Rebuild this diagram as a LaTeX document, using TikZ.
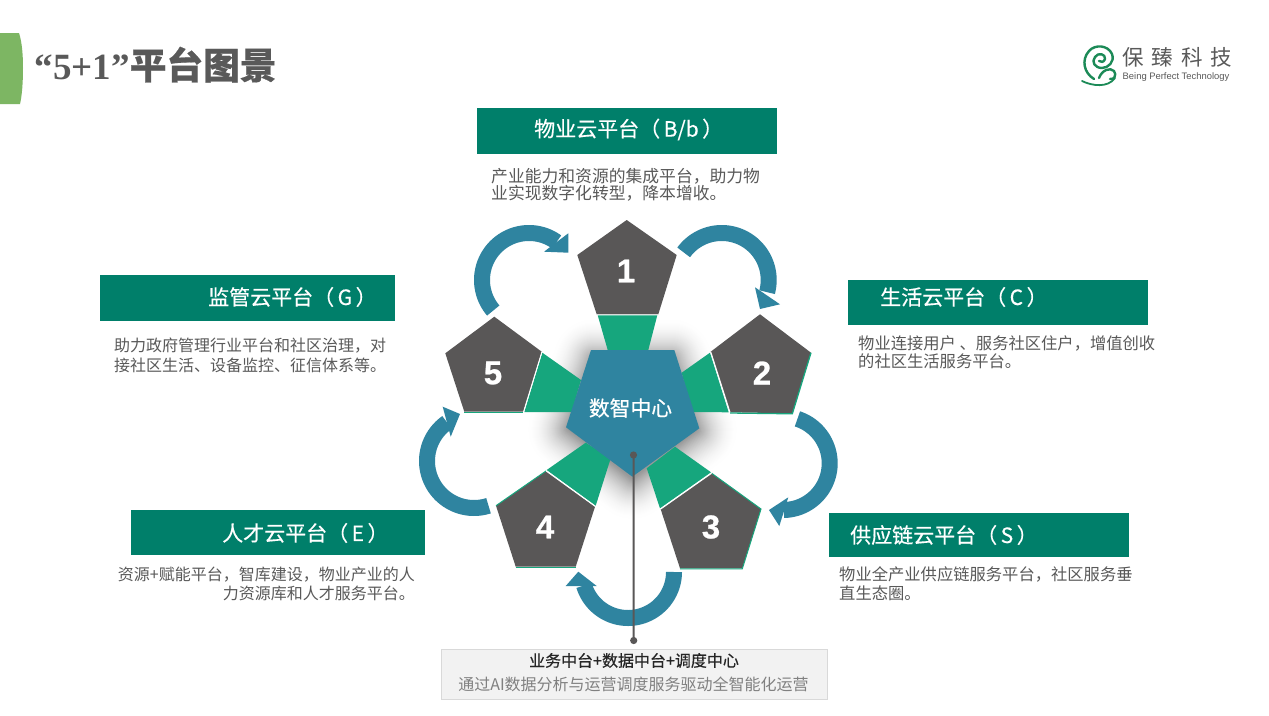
\documentclass[tikz,border=0pt]{standalone}
\usepackage{fontspec}
\setmainfont{Noto Sans CJK SC}
\newfontfamily\cjkmed[FakeBold=0.4]{Noto Sans CJK SC}
\newfontfamily\cjkhvy[FakeBold=0.55]{Noto Sans CJK SC}
\newfontfamily\latinser{Liberation Serif}
\newfontfamily\latinsan{Liberation Sans}
\newfontfamily\numfont[UprightFont={* Bold},FakeBold=0.8]{Liberation Sans}
\definecolor{barG}{HTML}{007F6A}
\definecolor{leaf}{HTML}{16A67D}
\definecolor{teal}{HTML}{2F84A0}
\definecolor{slate}{HTML}{595757}
\definecolor{bodyt}{HTML}{595959}
\definecolor{tabg}{HTML}{7DB663}
\definecolor{logog}{HTML}{1C8A57}
\tikzset{
  bar/.style={fill=barG,draw=none},
  barlabel/.style={text=white,font=\cjkmed\fontsize{21}{24}\selectfont,inner sep=0pt,anchor=west},
  body/.style={text=bodyt,font=\fontsize{16.3}{19.6}\selectfont,inner sep=0pt,align=left,anchor=north west},
  penta/.style={fill=slate,draw=none},
  wedge/.style={fill=leaf,draw=none},
  num/.style={text=white,font=\numfont\fontsize{33}{36}\selectfont,inner sep=0pt},
  arcline/.style={draw=teal,line width=16pt,line cap=butt,line join=round},
  headtip/.style={fill=teal,draw=none},
  sep/.style={draw=white,line width=1pt},
  rim/.style={draw=leaf,line width=1pt},
  logostroke/.style={draw=logog,line width=2.4pt,line cap=round,line join=round}
}
\newcommand{\curvedarrow}[7]{%
  \draw[arcline] plot[domain=#4:#5,samples=70] ({#1+#2*cos(\x)},{#3+#2*sin(\x)});
  \fill[headtip] #6 -- #7 -- cycle;}
\begin{document}
\begin{tikzpicture}[x=1pt,y=-1pt]
\useasboundingbox (0,0) rectangle (1269,715);
\fill[white] (0,0) rectangle (1269,715);
% tab
\fill[tabg] (0,33) -- (19,33) .. controls (22,42) and (23,55) .. (23,68) .. controls (23,82) and (22,96) .. (20,104) -- (0,104) -- cycle;
% title
\node[inner sep=0pt,anchor=base west,text=bodyt] (title) at (34.5,79) {\latinser\bfseries\fontsize{37}{40}\selectfont “5+1”\cjkhvy\fontsize{36.7}{40}\selectfont 平台图景};
% logo
\draw[logostroke] (1094,79) .. controls (1084,73) and (1081,60) .. (1089,51) .. controls (1095,44) and (1108,45) .. (1112,54) .. controls (1115,62) and (1108,68) .. (1102,68) .. controls (1095,68) and (1091,62) .. (1095,57) .. controls (1098,52) and (1106,54) .. (1105,59) .. controls (1104,62) and (1101,63) .. (1099,61);
\draw[logostroke] (1099,78) .. controls (1102,70) and (1110,67) .. (1114,71) .. controls (1117,75) and (1114,80) .. (1110,79);
\draw[logostroke,line width=1.8pt] (1082,81) .. controls (1092,86) and (1108,88) .. (1115,78);
\node[inner sep=0pt,anchor=center,text=bodyt] (logoa) at (1177,57) {\fontsize{21.5}{24}\selectfont 保\hspace{8pt}臻\hspace{8pt}科\hspace{8pt}技};
\node[inner sep=0pt,anchor=center,text=bodyt] (logob) at (1176,77.5) {\latinsan\fontsize{9.4}{11}\selectfont Being Perfect Technology};
% bars
\fill[bar] (477,108) rectangle (777,154);
\node[barlabel] (l1) at (534,129.5) {物业云平台（\,B/b\,）};
\fill[bar] (100,275) rectangle (395,321);
\node[barlabel] (lg) at (208,297) {监管云平台（\,G\,）};
\fill[bar] (848,280) rectangle (1148,325);
\node[barlabel] (lc) at (880,297) {生活云平台（\,C\,）};
\fill[bar] (131,510) rectangle (425,555);
\node[barlabel] (le) at (222,533) {人才云平台（\,E\,）};
\fill[bar] (829,513) rectangle (1129,557);
\node[barlabel] (ls) at (850,535) {供应链云平台（\,S\,）};
% body
\node[body,font=\fontsize{16.8}{16}\selectfont] (t1) at (491,168.5) {产业能力和资源的集成平台，助力物\\业实现数字化转型，降本增收。};
\node[body,font=\fontsize{16}{19.6}\selectfont] (tg) at (114,338) {助力政府管理行业平台和社区治理，对\\接社区生活、设备监控、征信体系等。};
\node[body,font=\fontsize{16.3}{18}\selectfont] (tc) at (858,336) {物业连接用户 、服务社区住户，增值创收\\的社区生活服务平台。};
\node[body,font=\fontsize{16.3}{19.2}\selectfont] (ts) at (839,566.5) {物业全产业供应链服务平台，社区服务垂\\直生态圈。};
\node[body,font=\fontsize{16}{19.2}\selectfont,align=right,anchor=north east] (te) at (415,566.5) {资源+赋能平台，智库建设，物业产业的人\\力资源库和人才服务平台。};
% soft shadow of the hub
\foreach \w in {42,41,...,1}{
  \pgfmathsetmacro{\shadepct}{42*(1-\w/43)*(1-\w/43)}
  \draw[draw=black!\shadepct,fill=black!\shadepct,line width=2*\w pt,line join=round] (594,360) -- (671,360) -- (696,430) -- (632.3,478) -- (569,429) -- cycle;
}
% wedges
\fill[wedge] (597.7,315.3) -- (657.3,315.3) -- (648.3,350) -- (607.7,350) -- cycle;
\fill[wedge] (542.3,352.7) -- (581,380) -- (571.7,412) -- (524.3,412) -- cycle;
\fill[wedge] (710,352.7) -- (681.7,372.7) -- (691.7,412) -- (728.7,412.3) -- cycle;
\fill[wedge] (711,472.3) -- (660,508.3) -- (646.7,468.3) -- (675,446.7) -- cycle;
\fill[wedge] (546.7,470) -- (595.7,505.7) -- (610.7,458.3) -- (585.7,442.7) -- cycle;
% pentagons
\fill[penta] (626.7,220) -- (676.7,255) -- (658.3,314.3) -- (596.7,314.3) -- (577.3,255) -- cycle;
\fill[penta] (760,314.3) -- (811,352.7) -- (792.3,413.3) -- (730,412.3) -- (710.7,351.7) -- cycle;
\fill[penta] (711.7,473.3) -- (761,509) -- (742.3,568.3) -- (680,568.3) -- (660.7,509.3) -- cycle;
\fill[penta] (546,471) -- (595,506.7) -- (575.7,566.7) -- (515.7,566.7) -- (496,505.7) -- cycle;
\fill[penta] (494.3,316.7) -- (541.7,351.7) -- (523.3,411.7) -- (464.3,411.7) -- (445.3,353.3) -- cycle;
% thin green rims
\draw[rim] (464.3,412) -- (523.3,412);
\draw[rim,line width=1.3pt] (730,413) -- (792.3,413.8) -- (811,352.7);
\draw[rim] (711.7,473.3) -- (761,509) -- (742.3,568.8) -- (680,568.8);
\draw[rim] (546,471) -- (496,505.7);
\draw[rim] (515.7,567) -- (575.7,567);
% white separators
\draw[sep] (541.9,352) -- (523.6,411.7);
\draw[sep] (710.7,351.7) -- (730,412.3);
\draw[sep] (660.7,509) -- (711.5,473.3);
\draw[sep] (546.2,471) -- (595,506.2);
\draw[sep,draw=black!15] (596.7,314.8) -- (658.3,314.8);
% numbers
\node[num] (n1) at (626,271) {1};
\node[num] (n2) at (762,373) {2};
\node[num] (n3) at (711,527) {3};
\node[num] (n4) at (545,527) {4};
\node[num] (n5) at (493,373) {5};
% centre
\fill[teal] (591,350) -- (674.3,350) -- (699.3,428.3) -- (632.3,476.7) -- (566,427.3) -- cycle;
\node[inner sep=0pt,text=white,font=\cjkmed\fontsize{20.8}{24}\selectfont] (hub) at (630.5,408) {数智中心};
% arrows
\curvedarrow{721.7}{47}{280}{216}{375}{(755,287.3) -- (780,304.3)}{(760,309)}
\curvedarrow{783}{46.7}{463.3}{-72}{89}{(788.3,497.3) -- (779.3,526)}{(769,510)}
\curvedarrow{628}{46}{572}{0}{163}{(565.7,586) -- (596.7,586)}{(578.3,571.7)}
\curvedarrow{474}{47}{461}{72}{235}{(442.7,406.7) -- (450.7,436.7)}{(460,414)}
\curvedarrow{529}{47}{280}{139.5}{306}{(568.3,233.3) -- (544,251.7)}{(568.3,252.7)}
% box
\node[draw=black!15,fill=black!5,line width=1pt,minimum width=386pt,minimum height=50pt,inner sep=0pt] (infobox) at (634,674) {};
\node[inner sep=0pt,text=black!85,font=\cjkhvy\fontsize{16}{18}\selectfont] (ia) at (634,660.5) {业务中台+数据中台+调度中心};
\node[inner sep=0pt,text=black!50,font=\fontsize{16}{18}\selectfont] (ib) at (633.5,684.5) {通过AI数据分析与运营调度服务驱动全智能化运营};
% leader
\coordinate (da) at (633.5,455);
\coordinate (db) at (633.7,640.5);
\draw[slate,line width=2pt] (da) -- (db);
\fill[slate] (da) circle (3.6);
\fill[slate] (db) circle (3.6);
\end{tikzpicture}
\end{document}
